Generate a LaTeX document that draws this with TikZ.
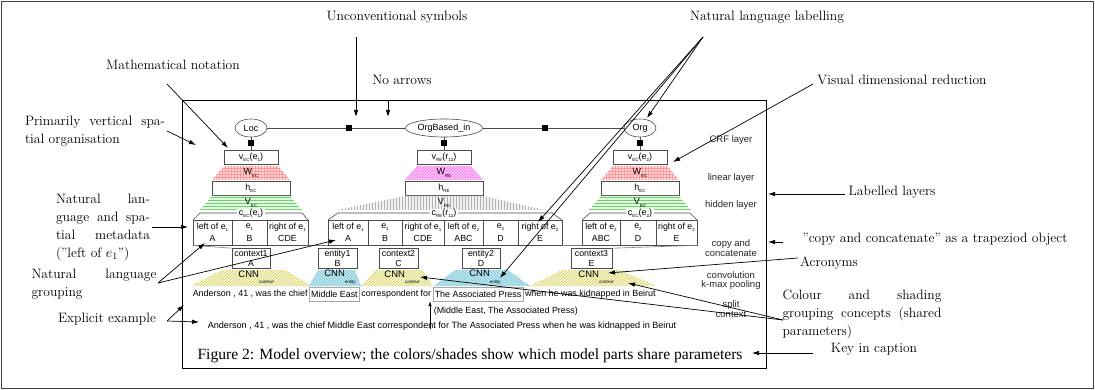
\documentclass[tikz,border=0pt]{standalone}
\usepackage{fontspec}
\newfontfamily\arialf{Liberation Sans}
\newfontfamily\timesf{Liberation Serif}
\usetikzlibrary{arrows.meta,patterns,shapes.geometric}
\newcommand\lsub[1]{\raisebox{-0.5ex}{\fontsize{4.5}{5}\selectfont #1}}
\newcommand\cnnsub[1]{\raisebox{-1.3ex}{\fontsize{4.5}{5}\selectfont\itshape #1}}
\tikzset{
  ann/.style={draw=black, line width=0.7pt, -{Latex[length=7pt,width=4.5pt]}},
  antext/.style={font=\fontsize{13.6}{18}\selectfont, inner sep=0pt},
  fig/.style={draw=black!70, line width=0.6pt},
  sanssm/.style={font=\arialf\fontsize{9}{10}\selectfont},
  boxn/.style={fig, fill=white, sanssm, inner sep=0pt, minimum height=14},
  cell/.style={fig, fill=white, inner sep=0pt, minimum height=25, align=center, font=\arialf\fontsize{8.8}{12.5}\selectfont},
  ctxbox/.style={fig, fill=white, inner sep=0pt, minimum height=20, align=center, font=\arialf\fontsize{8.8}{9.6}\selectfont},
  fac/.style={fill=black, minimum size=6.5, inner sep=0pt},
  ell/.style={ellipse, fig, fill=white, minimum height=18, inner sep=1pt, sanssm},
  lbl/.style={inner sep=0pt, sanssm},
  sent/.style={inner sep=1.6pt, minimum height=14, font=\arialf\fontsize{8.9}{10}\selectfont},
  lay/.style={inner sep=0pt, align=center, font=\arialf\fontsize{9.5}{9.8}\selectfont, text=black!85},
  wec/.style={fill=red!15, postaction={pattern=grid, pattern color=red!40}},
  wre/.style={fill=magenta!15, postaction={pattern=crosshatch, pattern color=magenta!50}},
  vec/.style={fill=green!15, postaction={pattern=horizontal lines, pattern color=green!55!black!50}},
  vre/.style={fill=gray!10, postaction={pattern=vertical lines, pattern color=gray!60}},
  cnnctx/.style={fill=yellow!25, postaction={pattern=north east lines, pattern color=yellow!50!black!45}},
  cnnent/.style={fill=cyan!25, postaction={pattern=north west lines, pattern color=cyan!50!black!50}},
  smarrow/.style={draw=black, line width=0.6pt, -{Latex[length=5pt,width=3.5pt]}}
}
\begin{document}
\begin{tikzpicture}[x=1pt,y=-1pt]
\useasboundingbox (0,0) rectangle (1095,390);
\draw[line width=1.2pt, black!75] (1.5,1.5) rectangle (1093.5,388.5);
\draw[line width=0.9pt] (182,100) rectangle (766,368);

% ---------- CRF layer ----------
\node[ell, minimum width=32] (loc) at (251,128) {Loc};
\node[ell, minimum width=74] (orgb) at (444,128) {OrgBased\_in};
\node[ell, minimum width=32] (org) at (640,128) {Org};
\node[fac] (f1) at (349,128) {};
\node[fac] (f2) at (545,128) {};
\draw[fig] (loc) -- (f1) -- (orgb) -- (f2) -- (org);

% ---------- EC1 column ----------
\node[fac] (fl) at (251,143) {};
\node[boxn, minimum width=54] (vec1) at (251,157) {v\lsub{EC}(e\lsub{1})};
\draw[fig] (loc) -- (fl) -- (vec1);
\fill[wec] (224,166) -- (278,166) -- (290,180) -- (212,180) -- cycle;
\node[lbl] (w1) at (251,173) {W\lsub{EC}};
\node[boxn, minimum width=78] (h1) at (251,188) {h\lsub{EC}};
\fill[vec] (212,196) -- (290,196) -- (302,210) -- (200,210) -- cycle;
\node[lbl] (v1) at (251,203) {V\lsub{EC}};
\draw[fig] (193,220) -- (200,213) -- (302,213) -- (308,220);
\node[lbl, fill=white, inner xsep=2pt] (c1) at (251,213) {c\lsub{EC}(e\lsub{1})};
\node[cell, minimum width=39] (a1) at (212.5,232.5) {left of e\lsub{1}\\A};
\node[cell, minimum width=35] (a2) at (249.5,232.5) {e\lsub{1}\\B};
\node[cell, minimum width=41] (a3) at (287.5,232.5) {right of e\lsub{1}\\CDE};

% ---------- RE column ----------
\node[fac] (fr) at (444,143) {};
\node[boxn, minimum width=54] (vre1) at (444,157) {v\lsub{RE}(r\lsub{12})};
\draw[fig] (orgb) -- (fr) -- (vre1);
\fill[wre] (417,166) -- (471,166) -- (483,180) -- (405,180) -- cycle;
\node[lbl] (w2) at (444,173) {W\lsub{RE}};
\node[boxn, minimum width=78] (h2) at (444,188) {h\lsub{RE}};
\fill[vre] (405,196) -- (483,196) -- (545,210) -- (337,210) -- cycle;
\node[lbl] (v2) at (444,203) {V\lsub{RE}};
\draw[fig] (328,220) -- (338,213) -- (552,213) -- (562,220);
\node[lbl, fill=white, inner xsep=2pt] (c2) at (444,213) {c\lsub{RE}(r\lsub{12})};
\node[cell, minimum width=40] (r1) at (348,232.5) {left of e\lsub{1}\\A};
\node[cell, minimum width=34] (r2) at (385,232.5) {e\lsub{1}\\B};
\node[cell, minimum width=42] (r3) at (423,232.5) {right of e\lsub{1}\\CDE};
\node[cell, minimum width=39] (r4) at (463.5,232.5) {left of e\lsub{2}\\ABC};
\node[cell, minimum width=35] (r5) at (500.5,232.5) {e\lsub{2}\\D};
\node[cell, minimum width=44] (r6) at (540,232.5) {right of e\lsub{2}\\E};

% ---------- EC2 column ----------
\node[fac] (fo) at (640,143) {};
\node[boxn, minimum width=54] (vec2) at (640,157) {v\lsub{EC}(e\lsub{2})};
\draw[fig] (org) -- (fo) -- (vec2);
\fill[wec] (613,166) -- (667,166) -- (679,180) -- (601,180) -- cycle;
\node[lbl] (w3) at (640,173) {W\lsub{EC}};
\node[boxn, minimum width=78] (h3) at (640,188) {h\lsub{EC}};
\fill[vec] (601,196) -- (679,196) -- (691,210) -- (589,210) -- cycle;
\node[lbl] (v3) at (640,203) {V\lsub{EC}};
\draw[fig] (582,220) -- (590,213) -- (690,213) -- (697,220);
\node[lbl, fill=white, inner xsep=2pt] (c3) at (640,213) {c\lsub{EC}(e\lsub{2})};
\node[cell, minimum width=38] (b1) at (601,232.5) {left of e\lsub{2}\\ABC};
\node[cell, minimum width=36] (b2) at (638,232.5) {e\lsub{2}\\D};
\node[cell, minimum width=41] (b3) at (676.5,232.5) {right of e\lsub{2}\\E};

% ---------- context / entity boxes ----------
\node[ctxbox, minimum width=38] (ctx1) at (251,258.5) {context1\\A};
\node[ctxbox, minimum width=39] (ent1) at (337.5,258.5) {entity1\\B};
\node[ctxbox, minimum width=39] (ctx2) at (398.5,258.5) {context2\\C};
\node[ctxbox, minimum width=38] (ent2) at (481,258.5) {entity2\\D};
\node[ctxbox, minimum width=41] (ctx3) at (591.5,258.5) {context3\\E};
\draw[fig, draw=black!50] (a1.south west) -- (ctx1.north west);
\draw[fig, draw=black!50] (a3.south east) -- (r1.south west);
\draw[fig, draw=black!50] (r6.south east) -- (b1.south west);
\draw[fig, draw=black!50] (b3.south east) -- (ctx3.north east);

% ---------- CNNs ----------
\fill[cnnctx] (222,270) -- (285,270) -- (312,286) -- (191,286) -- cycle;
\fill[cnnent] (318,270) -- (355,270) -- (361,286) -- (309,286) -- cycle;
\fill[cnnctx] (375,270) -- (422,270) -- (433,286) -- (362,286) -- cycle;
\fill[cnnent] (455,270) -- (508,270) -- (530,286) -- (434,286) -- cycle;
\fill[cnnctx] (562,270) -- (620,270) -- (656,286) -- (530,286) -- cycle;
\node[lbl, font=\arialf\fontsize{9.5}{10}\selectfont] (k1) at (256,277) {CNN\cnnsub{context}};
\node[lbl, font=\arialf\fontsize{9.5}{10}\selectfont] (k2) at (340,277) {CNN\cnnsub{entity}};
\node[lbl, font=\arialf\fontsize{9.5}{10}\selectfont] (k3) at (402,277) {CNN\cnnsub{context}};
\node[lbl, font=\arialf\fontsize{9.5}{10}\selectfont] (k4) at (485,277) {CNN\cnnsub{entity}};
\node[lbl, font=\arialf\fontsize{9.5}{10}\selectfont] (k5) at (596,277) {CNN\cnnsub{context}};

% ---------- sentence ----------
\node[sent, anchor=west] (s1) at (191,294) {Anderson , 41 , was the chief};
\node[sent, anchor=west, draw=black!35, line width=0.5pt] (s2) at (s1.east) {Middle East};
\node[sent, anchor=west] (s3) at (s2.east) {correspondent for};
\node[sent, anchor=west, draw=black!35, line width=0.5pt] (s4) at (s3.east) {The Associated Press};
\node[sent, anchor=west] (s5) at (s4.east) {when he was kidnapped in Beirut};
\node[sent, anchor=west] (pair) at (432,311) {(Middle East, The Associated Press)};
\node[sent, font=\arialf\fontsize{9.1}{10}\selectfont] (full) at (442,326) {Anderson , 41 , was the chief Middle East correspondent for The Associated Press when he was kidnapped in Beirut};
\coordinate (pairsrc) at (430,329);
\draw[smarrow] (pairsrc) -- (pairsrc |- s3.south);

% ---------- layer labels ----------
\node[lay] (l1) at (731,140) {CRF layer};
\node[lay] (l2) at (731,178) {linear layer};
\node[lay] (l3) at (731,205) {hidden layer};
\node[lay] (l4) at (731,248.5) {copy and\\concatenate};
\node[lay] (l5) at (731,280.5) {convolution\\k-max pooling};
\node[lay] (l6) at (731,309.5) {split\\context};

% ---------- caption ----------
\node[inner sep=0pt, font=\timesf\fontsize{15.6}{17}\selectfont] (cap) at (470,356) {Figure 2: Model overview; the colors/shades show which model parts share parameters};

% ---------- annotations ----------
\node[antext] (t1) at (397,17) {Unconventional symbols};
\node[antext] (t2) at (402,80) {No arrows};
\node[antext] (t3) at (173,65) {Mathematical notation};
\node[antext, text width=140, align=justify] (t4) at (95,131) {Primarily vertical spa-\linebreak tial organisation};
\node[antext, text width=94, align=justify] (t5) at (103,227) {Natural lan-\linebreak guage and spa-\linebreak tial metadata\linebreak (''left of $e_1$'')};
\node[antext, text width=125, align=justify] (t6) at (94,284) {Natural language\linebreak grouping};
\node[antext] (t7) at (107,319) {Explicit example};
\node[antext] (t8) at (767,17) {Natural language labelling};
\node[antext] (t9) at (902,80) {Visual dimensional reduction};
\node[antext] (t10) at (892,192) {Labelled layers};
\node[antext] (t11) at (935,239) {''copy and concatenate'' as a trapeziod object};
\node[antext] (t12) at (829,263) {Acronyms};
\node[antext, text width=159, align=justify] (t13) at (862,314) {Colour and shading\linebreak grouping concepts (shared\linebreak parameters)};
\node[antext] (t14) at (874,349) {Key in caption};

\coordinate (u1) at (356,37);   \coordinate (u1e) at (356,117);
\coordinate (u2) at (388,100);  \coordinate (u2e) at (388,117);
\coordinate (u3) at (167,84);   \coordinate (u3e) at (228,148);
\coordinate (u4) at (167,131);  \coordinate (u4e) at (196,145);
\coordinate (u5) at (152,227);  \coordinate (u5e) at (188,227);
\coordinate (u6) at (158,283);  \coordinate (u6a) at (205,243); \coordinate (u6b) at (336,240);
\coordinate (u7) at (167,321);  \coordinate (u7a) at (184,305); \coordinate (u7b) at (199,322);
\coordinate (u8) at (703,37);   \coordinate (u8a) at (647,118); \coordinate (u8b) at (538,222); \coordinate (u8c) at (500,278);
\coordinate (u9) at (813,84);   \coordinate (u9e) at (673,162);
\coordinate (u10) at (845,194); \coordinate (u10e) at (768,194);
\coordinate (u11) at (783,242); \coordinate (u11e) at (768,242);
\coordinate (u12) at (798,258); \coordinate (u12e) at (608,273);
\coordinate (u13) at (783,320); \coordinate (u13a) at (628,283); \coordinate (u13b) at (420,277);
\coordinate (u14) at (813,353); \coordinate (u14e) at (752,353);

\draw[ann] (u1) -- (u1e);
\draw[ann] (u2) -- (u2e);
\draw[ann] (u3) -- (u3e);
\draw[ann] (u4) -- (u4e);
\draw[ann] (u5) -- (u5e);
\draw[ann] (u6) -- (u6a);
\draw[ann] (u6) -- (u6b);
\draw[ann] (u7) -- (u7a);
\draw[ann] (u7) -- (u7b);
\draw[ann] (u8) -- (u8a);
\draw[ann] (u8) -- (u8b);
\draw[ann] (u8) -- (u8c);
\draw[ann] (u9) -- (u9e);
\draw[ann] (u10) -- (u10e);
\draw[ann] (u11) -- (u11e);
\draw[ann] (u12) -- (u12e);
\draw[ann] (u13) -- (u13a);
\draw[ann] (u13) -- (u13b);
\draw[ann] (u14) -- (u14e);
\end{tikzpicture}
\end{document}
